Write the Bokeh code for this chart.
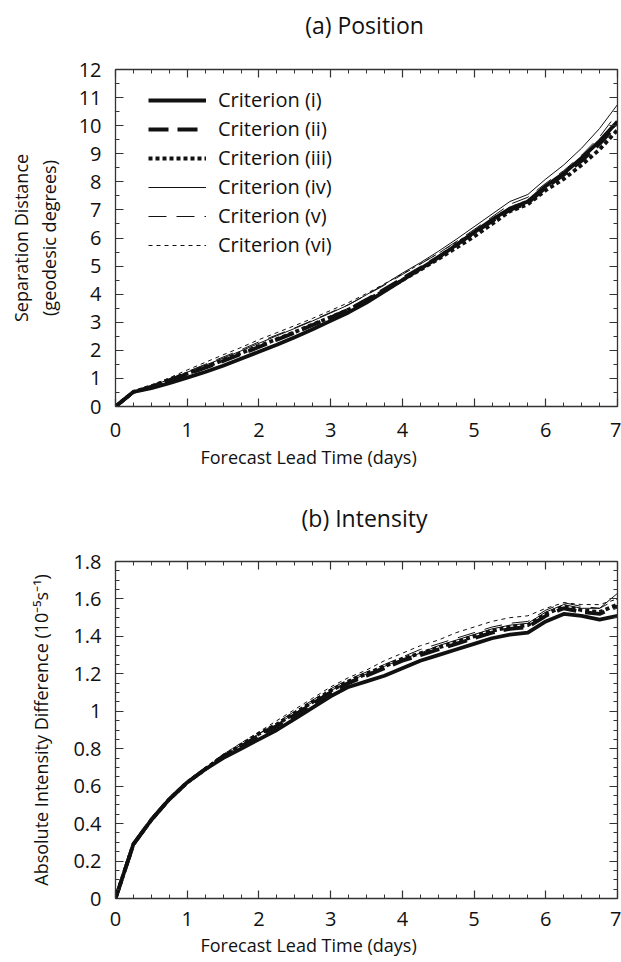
from bokeh.plotting import figure
from bokeh.models import (Range1d, LinearAxis, SingleIntervalTicker, CustomJSTickFormatter,
                          Legend, LegendItem, Title, Label)
from bokeh.layouts import column
from bokeh.embed import file_html
from bokeh.resources import INLINE

# ---------------- data ----------------
lead_time = [0, 0.25, 0.5, 0.75, 1, 1.25, 1.5, 1.75, 2, 2.25, 2.5, 2.75, 3, 3.25, 3.5,
             3.75, 4, 4.25, 4.5, 4.75, 5, 5.25, 5.5, 5.75, 6, 6.25, 6.5, 6.75, 7]

criteria = ["Criterion (i)", "Criterion (ii)", "Criterion (iii)",
            "Criterion (iv)", "Criterion (v)", "Criterion (vi)"]

# (a) Position: separation distance (geodesic degrees)
pos_i = [0, 0.52, 0.65, 0.83, 1.03, 1.23, 1.45, 1.70, 1.95, 2.20, 2.47, 2.75, 3.05, 3.35, 3.70,
         4.10, 4.50, 4.90, 5.30, 5.75, 6.20, 6.65, 7.05, 7.30, 7.85, 8.30, 8.85, 9.45, 10.15]
pos_ii = [0, 0.52, 0.70, 0.93, 1.15, 1.38, 1.62, 1.87, 2.12, 2.38, 2.63, 2.90, 3.17, 3.45, 3.80,
          4.17, 4.55, 4.93, 5.32, 5.75, 6.18, 6.60, 7.00, 7.25, 7.80, 8.25, 8.75, 9.35, 10.05]
pos_iii = [0, 0.52, 0.72, 0.95, 1.17, 1.40, 1.65, 1.90, 2.15, 2.40, 2.65, 2.92, 3.18, 3.45, 3.78,
           4.12, 4.50, 4.87, 5.25, 5.65, 6.05, 6.50, 6.95, 7.20, 7.70, 8.10, 8.60, 9.15, 9.85]
pos_iv = [0, 0.52, 0.72, 0.97, 1.22, 1.47, 1.72, 1.98, 2.25, 2.52, 2.78, 3.05, 3.33, 3.62, 3.98,
          4.35, 4.75, 5.12, 5.52, 5.95, 6.40, 6.85, 7.30, 7.55, 8.10, 8.60, 9.20, 9.90, 10.75]
pos_v = [0, 0.52, 0.73, 0.98, 1.24, 1.50, 1.76, 2.02, 2.30, 2.55, 2.80, 3.07, 3.35, 3.63, 3.97,
         4.32, 4.70, 5.07, 5.45, 5.87, 6.30, 6.75, 7.20, 7.45, 7.95, 8.40, 8.95, 9.60, 10.45]
pos_vi = [0, 0.53, 0.75, 1.02, 1.30, 1.57, 1.84, 2.10, 2.38, 2.63, 2.88, 3.14, 3.42, 3.70, 4.02,
          4.37, 4.72, 5.08, 5.45, 5.85, 6.25, 6.70, 7.10, 7.35, 7.85, 8.30, 8.85, 9.45, 10.05]

# (b) Intensity: absolute intensity difference (1e-5 s^-1)
int_i = [0, 0.29, 0.42, 0.53, 0.62, 0.69, 0.75, 0.80, 0.85, 0.90, 0.96, 1.02, 1.08, 1.13, 1.16,
         1.19, 1.23, 1.27, 1.30, 1.33, 1.36, 1.39, 1.41, 1.42, 1.48, 1.52, 1.51, 1.49, 1.51]
int_ii = [0, 0.29, 0.42, 0.53, 0.62, 0.69, 0.76, 0.81, 0.87, 0.92, 0.98, 1.04, 1.10, 1.15, 1.19,
          1.23, 1.27, 1.30, 1.33, 1.36, 1.39, 1.42, 1.44, 1.45, 1.51, 1.55, 1.53, 1.52, 1.56]
int_iii = [0, 0.29, 0.42, 0.53, 0.62, 0.69, 0.76, 0.82, 0.88, 0.93, 0.99, 1.05, 1.11, 1.16, 1.20,
           1.24, 1.28, 1.31, 1.34, 1.37, 1.40, 1.43, 1.45, 1.46, 1.52, 1.56, 1.54, 1.53, 1.57]
int_iv = [0, 0.29, 0.42, 0.53, 0.62, 0.69, 0.76, 0.82, 0.88, 0.93, 0.99, 1.05, 1.11, 1.16, 1.20,
          1.24, 1.28, 1.31, 1.35, 1.38, 1.41, 1.44, 1.46, 1.47, 1.53, 1.57, 1.55, 1.55, 1.63]
int_v = [0, 0.29, 0.42, 0.53, 0.62, 0.69, 0.76, 0.82, 0.88, 0.94, 1.00, 1.06, 1.12, 1.17, 1.21,
         1.25, 1.29, 1.33, 1.36, 1.39, 1.42, 1.45, 1.47, 1.48, 1.54, 1.58, 1.56, 1.55, 1.60]
int_vi = [0, 0.29, 0.42, 0.53, 0.62, 0.70, 0.77, 0.83, 0.89, 0.95, 1.01, 1.07, 1.13, 1.18, 1.22,
          1.27, 1.31, 1.35, 1.38, 1.42, 1.45, 1.48, 1.50, 1.51, 1.55, 1.58, 1.57, 1.57, 1.60]

position_series = [pos_i, pos_ii, pos_iii, pos_iv, pos_v, pos_vi]
intensity_series = [int_i, int_ii, int_iii, int_iv, int_v, int_vi]

# ---------------- style ----------------
FONT = "Open Sans"
INK = "#111111"
AXC = "#333333"
line_styles = [(3.8, "solid"), (3.8, "20 9"), (3.8, "4 3"),
               (1.0, "solid"), (1.0, "18 10"), (1.0, "4 4")]

W = 621
FRAME_L = 115
FRAME_R = 4


def title_strip(height, text, center_x, center_from_top):
    """A frameless strip that only carries a panel title."""
    t = figure(width=W, height=height, x_range=Range1d(0, W), y_range=Range1d(0, height),
               output_backend="svg", toolbar_location=None,
               x_axis_type=None, y_axis_type=None,
               min_border_left=0, min_border_right=0, min_border_top=0, min_border_bottom=0)
    t.outline_line_color = None
    t.grid.visible = False
    t.add_layout(Label(x=center_x, y=height - center_from_top, text=text,
                       text_font=FONT, text_font_size="23px", text_color=INK,
                       text_align="center", text_baseline="middle"))
    return t


def make_fig(height, y_end, y_interval, y_minor, top, bottom, ylabel, ylabel_standoff,
             xlab_offset, xtick_standoff, xlab_standoff):
    p = figure(width=W, height=height, x_range=Range1d(0, 7), y_range=Range1d(0, y_end),
               output_backend="svg", toolbar_location=None,
               x_axis_type=None, y_axis_type=None,
               min_border_left=FRAME_L, min_border_right=FRAME_R,
               min_border_top=top, min_border_bottom=bottom)
    p.outline_line_color = None
    xt = SingleIntervalTicker(interval=1, num_minor_ticks=4)
    yt = SingleIntervalTicker(interval=y_interval, num_minor_ticks=y_minor)
    fmt = CustomJSTickFormatter(code="return String(Number(tick.toFixed(2)));")
    blank = CustomJSTickFormatter(code="return '';")
    for loc, ticker in (("below", xt), ("left", yt), ("above", xt), ("right", yt)):
        ax = LinearAxis(ticker=ticker, formatter=fmt)
        ax.axis_line_color = AXC
        ax.axis_line_width = 1.3
        ax.major_tick_line_color = AXC
        ax.minor_tick_line_color = AXC
        ax.major_tick_line_width = 1.2
        ax.minor_tick_line_width = 1.0
        ax.major_tick_in = 8
        ax.major_tick_out = 0
        ax.minor_tick_in = 4
        ax.minor_tick_out = 0
        ax.major_label_text_font = FONT
        ax.major_label_text_font_size = "20px"
        ax.major_label_text_color = INK
        if loc == "below":
            ax.major_label_standoff = xtick_standoff
        elif loc == "left":
            ax.major_label_standoff = 14
            ax.axis_label = ylabel
            ax.axis_label_text_font = FONT
            ax.axis_label_text_font_size = "18px"
            ax.axis_label_text_font_style = "normal"
            ax.axis_label_text_color = INK
            ax.axis_label_standoff = ylabel_standoff
            ax.axis_label_text_line_height = 1.15
        else:
            ax.formatter = blank
            ax.major_label_standoff = 0
        p.add_layout(ax, loc)

    p.add_layout(Title(text="Forecast Lead Time (days)", align="left", offset=xlab_offset,
                       vertical_align="top", standoff=xlab_standoff,
                       text_font=FONT, text_font_size="18px", text_font_style="normal",
                       text_color=INK), "below")
    return p


def add_lines(p, series, legend_loc=None):
    items = []
    for lab, ys, (lw, dash) in zip(criteria, series, line_styles):
        r = p.line(lead_time, ys, line_color=INK, line_width=lw, line_dash=dash,
                   line_join="round", line_cap="butt")
        items.append(LegendItem(label=lab, renderers=[r]))
    if legend_loc is not None:
        lg = Legend(items=items, location=legend_loc, orientation="vertical",
                    label_text_font=FONT, label_text_font_size="20px",
                    label_text_color=INK, glyph_width=58, glyph_height=20,
                    label_height=20, label_standoff=12, spacing=2,
                    padding=0, margin=0, border_line_color=None,
                    background_fill_alpha=0)
        p.add_layout(lg)


# ---------------- (a) Position ----------------
T1 = 48
t1 = title_strip(T1, "(a) Position", 308, 24)
H1 = 480 - T1
p1 = make_fig(H1, 12, 1, 2, top=69 - T1, bottom=480 - 406,
              ylabel="Separation Distance\n(geodesic degrees)", ylabel_standoff=15,
              xlab_offset=85, xtick_standoff=16, xlab_standoff=11)
add_lines(p1, position_series, legend_loc=(33, 148))

# ---------------- (b) Intensity ----------------
T2 = 60
t2 = title_strip(T2, "(b) Intensity", 308, 517 - 480)
H2 = 962 - 480 - T2
p2 = make_fig(H2, 1.8, 0.2, 4, top=561 - 480 - T2, bottom=962 - 898,
              ylabel="Absolute Intensity Difference (10\u207b\u2075s\u207b\u00b9)", ylabel_standoff=17,
              xlab_offset=85, xtick_standoff=13, xlab_standoff=8)
add_lines(p2, intensity_series)

layout = column(t1, p1, t2, p2, spacing=0)
open("out.html", "w").write(file_html(layout, INLINE))
